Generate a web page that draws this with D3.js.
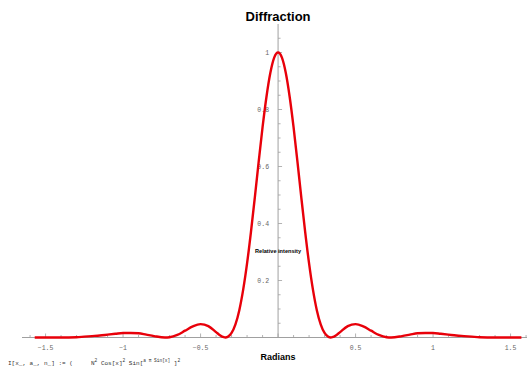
<!DOCTYPE html>
<html>
<head>
<meta charset="utf-8">
<script src="https://cdn.jsdelivr.net/npm/d3@7"></script>
<style>
  body { margin: 0; background: #fff; }
  svg { display: block; }
</style>
</head>
<body>
<svg id="chart" width="530" height="366"></svg>
<script>
// curve samples (radians -> relative intensity)
const radians = [
  -1.57, -1.5, -1.4, -1.3, -1.25, -1.2, -1.15, -1.1, -1.05, -1.0, -0.95, -0.9, -0.85, -0.8,
  -0.73, -0.7, -0.65, -0.6, -0.55, -0.5, -0.45, -0.4, -0.375, -0.35, -0.34, -0.325,
  -0.3, -0.275, -0.25, -0.225, -0.2, -0.175, -0.15, -0.125, -0.1, -0.075, -0.05, -0.025,
  0,
  0.025, 0.05, 0.075, 0.1, 0.125, 0.15, 0.175, 0.2, 0.225, 0.25, 0.275, 0.3,
  0.325, 0.34, 0.35, 0.375, 0.4, 0.45, 0.5, 0.55, 0.6, 0.65, 0.7, 0.73,
  0.8, 0.85, 0.9, 0.95, 1.0, 1.05, 1.1, 1.15, 1.2, 1.25, 1.3, 1.4, 1.5, 1.57
];
const intensity = [
  0, 0, 0, 0.001, 0.003, 0.005, 0.007, 0.010, 0.013, 0.016, 0.016, 0.015, 0.010, 0.005,
  0, 0.001, 0.009, 0.024, 0.039, 0.047, 0.040, 0.019, 0.008, 0.001, 0, 0.002,
  0.016, 0.046, 0.096, 0.168, 0.260, 0.370, 0.491, 0.617, 0.738, 0.844, 0.928, 0.982,
  1,
  0.982, 0.928, 0.844, 0.738, 0.617, 0.491, 0.370, 0.260, 0.168, 0.096, 0.046, 0.016,
  0.002, 0, 0.001, 0.008, 0.019, 0.040, 0.047, 0.039, 0.024, 0.009, 0.001, 0,
  0.005, 0.010, 0.015, 0.016, 0.016, 0.013, 0.010, 0.007, 0.005, 0.003, 0.001, 0, 0, 0
];
const xTickLabels = [-1.5, -1, -0.5, 0.5, 1, 1.5];
const yTickLabels = [0.2, 0.4, 0.6, 0.8, 1];

const svg = d3.select('#chart');

const x = d3.scaleLinear().domain([-1.652, 1.606]).range([22, 527]);
const y = d3.scaleLinear().domain([0, 1.1]).range([337.5, 24]);

const axisColor = '#a0a0a0';
const labelFont = '"Liberation Mono", "DejaVu Sans Mono", monospace';

// x axis
const xAxis = svg.append('g');
xAxis.append('line')
  .attr('x1', x.range()[0]).attr('x2', x.range()[1])
  .attr('y1', y(0)).attr('y2', y(0))
  .attr('stroke', axisColor).attr('stroke-width', 1);

const xMinor = d3.range(-16, 17).map(d => d / 10);
xAxis.selectAll('line.tick')
  .data(xMinor)
  .join('line')
  .attr('class', 'tick')
  .attr('x1', d => x(d)).attr('x2', d => x(d))
  .attr('y1', y(0))
  .attr('y2', d => y(0) - (Math.abs(d * 2 - Math.round(d * 2)) < 1e-6 ? 4 : 2.5))
  .attr('stroke', axisColor).attr('stroke-width', 0.8);

xAxis.selectAll('text')
  .data(xTickLabels)
  .join('text')
  .attr('x', d => x(d))
  .attr('y', y(0) + 12)
  .attr('text-anchor', 'middle')
  .attr('font-family', labelFont)
  .attr('font-size', 6.5)
  .attr('fill', '#666')
  .text(d => d3.format('.1~f')(d));

// y axis
const yAxis = svg.append('g');
yAxis.append('line')
  .attr('x1', x(0)).attr('x2', x(0))
  .attr('y1', y(1.1)).attr('y2', y(0))
  .attr('stroke', axisColor).attr('stroke-width', 1);

const yMinor = d3.range(1, 22).map(d => d / 20);
yAxis.selectAll('line.tick')
  .data(yMinor)
  .join('line')
  .attr('class', 'tick')
  .attr('x1', x(0))
  .attr('x2', d => x(0) + (Math.abs(d * 5 - Math.round(d * 5)) < 1e-6 ? 4 : 2.5))
  .attr('y1', d => y(d)).attr('y2', d => y(d))
  .attr('stroke', axisColor).attr('stroke-width', 0.8);

yAxis.selectAll('text')
  .data(yTickLabels)
  .join('text')
  .attr('x', x(0) - 9)
  .attr('y', d => y(d) + 2)
  .attr('text-anchor', 'end')
  .attr('font-family', labelFont)
  .attr('font-size', 6.5)
  .attr('fill', '#666')
  .text(d => d3.format('~g')(d));

// the curve
const points = radians.map((r, i) => [r, intensity[i]]);
const line = d3.line()
  .x(d => x(d[0]))
  .y(d => y(d[1]))
  .curve(d3.curveMonotoneX);

svg.append('path')
  .datum(points)
  .attr('d', line)
  .attr('fill', 'none')
  .attr('stroke', '#e8000a')
  .attr('stroke-width', 2.4)
  .attr('stroke-linejoin', 'round');

// titles
const boldFont = '"Liberation Sans", Arial, sans-serif';
svg.append('text')
  .attr('x', x(0)).attr('y', 21)
  .attr('text-anchor', 'middle')
  .attr('font-family', boldFont).attr('font-weight', 'bold')
  .attr('font-size', 13)
  .text('Diffraction');

svg.append('text')
  .attr('x', x(0)).attr('y', 360)
  .attr('text-anchor', 'middle')
  .attr('font-family', boldFont).attr('font-weight', 'bold')
  .attr('font-size', 9)
  .text('Radians');

svg.append('text')
  .attr('x', x(0)).attr('y', 253)
  .attr('text-anchor', 'middle')
  .attr('font-family', boldFont).attr('font-weight', 'bold')
  .attr('font-size', 5.6)
  .text('Relative intensity');

// definition line at the bottom-left
const formula = svg.append('text')
  .attr('x', 8).attr('y', 364.5)
  .attr('font-family', labelFont)
  .attr('font-size', 6)
  .attr('fill', '#333');
formula.append('tspan').text('I[x_, a_, n_] := (');
formula.append('tspan').attr('x', 91).text('N');
formula.append('tspan').attr('dy', -3).attr('font-size', 4.5).text('2');
formula.append('tspan').attr('dy', 3).text(' Cos[x]');
formula.append('tspan').attr('dy', -3).attr('font-size', 4.5).text('2');
formula.append('tspan').attr('dy', 3).text(' Sin[');
formula.append('tspan').attr('dy', -3).attr('font-size', 4.5).text('a π Sin[x]');
formula.append('tspan').attr('dy', 3).text(' ]');
formula.append('tspan').attr('dy', -3).attr('font-size', 4.5).text('2');
</script>
</body>
</html>
